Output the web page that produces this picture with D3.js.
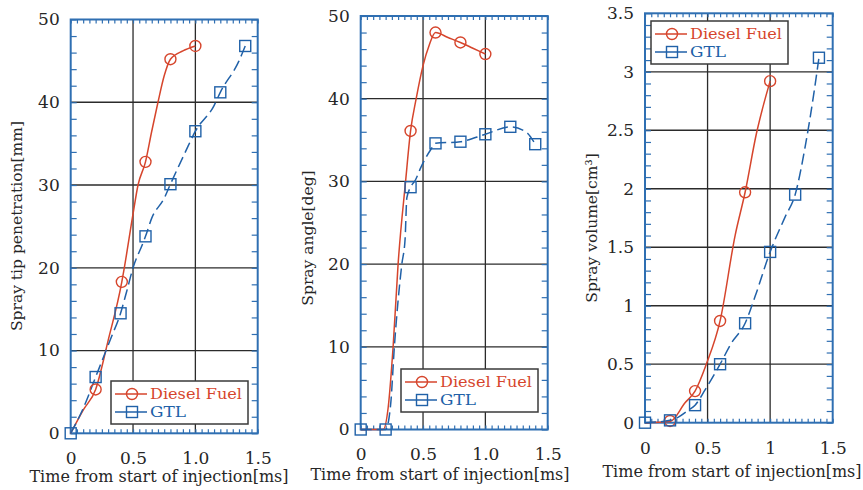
<!DOCTYPE html>
<html>
<head>
<meta charset="utf-8">
<script src="https://cdn.jsdelivr.net/npm/d3@7"></script>
<style>
  body { margin: 0; background: #fff; }
  svg text { font-family: "DejaVu Serif", serif; fill: #262626; }
</style>
</head>
<body>
<svg id="chart" width="863" height="490"></svg>
<script>
// ---- data ----
let timeTicks = [0, 0.5, 1.0, 1.5];
let timeLabelsA = ["0", "0.5", "1.0", "1.5"];
let timeLabelsB = ["0", "0.5", "1", "1.5"];

let penTicks = [0, 10, 20, 30, 40, 50];
let angTicks = [0, 10, 20, 30, 40, 50];
let volTicks = [0, 0.5, 1, 1.5, 2, 2.5, 3, 3.5];
let volLabels = ["0", "0.5", "1", "1.5", "2", "2.5", "3", "3.5"];

let seriesNames = ["Diesel Fuel", "GTL"];

// spray tip penetration [mm]
let dieselPenLine = [[0, 0], [0.1, 2.8], [0.2, 5.3], [0.3, 11.2], [0.41, 18.3], [0.43, 20], [0.5, 26.5], [0.54, 30], [0.6, 32.8], [0.65, 36.5], [0.7, 40], [0.75, 43.2], [0.8, 45.2], [0.9, 46.2], [1.0, 46.8]];
let dieselPenPts = [[0.2, 5.3], [0.41, 18.3], [0.6, 32.8], [0.8, 45.2], [1.0, 46.8]];
let gtlPenLine = [[0, 0], [0.1, 3.0], [0.2, 6.8], [0.32, 11.4], [0.4, 14.5], [0.45, 17.2], [0.5, 20], [0.58, 23], [0.6, 23.8], [0.65, 26], [0.75, 28.4], [0.8, 30.1], [0.92, 34], [1.0, 36.5], [1.15, 39.6], [1.2, 41.2], [1.35, 45], [1.4, 46.8]];
let gtlPenPts = [[0, 0], [0.2, 6.8], [0.4, 14.5], [0.6, 23.8], [0.8, 30.1], [1.0, 36.5], [1.2, 41.2], [1.4, 46.8]];

// spray angle [deg]
let dieselAngLine = [[0, 0], [0.18, 0], [0.22, 2.6], [0.26, 10], [0.3, 20], [0.36, 30], [0.4, 36.1], [0.445, 40], [0.5, 44], [0.55, 46.5], [0.6, 48], [0.7, 47.4], [0.8, 46.8], [0.9, 46.1], [1.0, 45.4]];
let dieselAngPts = [[0.4, 36.1], [0.6, 48], [0.8, 46.8], [1.0, 45.4]];
let gtlAngLine = [[0, 0], [0.2, 0], [0.24, 3], [0.27, 10], [0.33, 20], [0.356, 23], [0.37, 28], [0.4, 29.3], [0.44, 30.2], [0.48, 31.6], [0.52, 32.8], [0.56, 33.8], [0.6, 34.6], [0.8, 34.8], [1.0, 35.7], [1.2, 36.6], [1.3, 36.2], [1.34, 35.8], [1.4, 34.5]];
let gtlAngPts = [[0, 0], [0.2, 0], [0.4, 29.3], [0.6, 34.6], [0.8, 34.8], [1.0, 35.7], [1.2, 36.6], [1.4, 34.5]];

// spray volume [cm3]
let dieselVolLine = [[0, 0], [0.2, 0.01], [0.32, 0.17], [0.4, 0.27], [0.49, 0.5], [0.6, 0.87], [0.72, 1.6], [0.8, 1.97], [0.89, 2.47], [1.0, 2.92]];
let dieselVolPts = [[0.2, 0.015], [0.4, 0.27], [0.6, 0.87], [0.8, 1.97], [1.0, 2.92]];
let gtlVolLine = [[0, 0], [0.2, 0.02], [0.27, 0.05], [0.35, 0.11], [0.4, 0.15], [0.48, 0.28], [0.6, 0.5], [0.69, 0.68], [0.8, 0.85], [0.88, 1.08], [1.0, 1.46], [1.12, 1.76], [1.2, 1.95], [1.28, 2.36], [1.35, 2.82], [1.39, 3.12]];
let gtlVolPts = [[0, 0], [0.2, 0.02], [0.4, 0.15], [0.6, 0.5], [0.8, 0.85], [1.0, 1.46], [1.2, 1.95], [1.39, 3.12]];

// ---- styling ----
let red = "#d6452c";
let blue = "#2061a8";
let frameBlue = "#2f6fb2";
let gridColor = "#2b2b2b";

let panels = [
    {
        box: { left: 70.7, right: 257.7, top: 19.5, bottom: 433.3 },
        yMax: 50, yTicks: penTicks, yLabels: penTicks.map(String), yMinor: 2,
        xLabels: timeLabelsA, xLabelY: 464, titleY: 482, titleX: 159,
        yTitle: "Spray tip penetration[mm]", yTitleX: 22, yTitleY: 226,
        legend: { x: 111, y: 381, w: 137, h: 43 },
        lines: [dieselPenLine, gtlPenLine], pts: [dieselPenPts, gtlPenPts]
    },
    {
        box: { left: 360.7, right: 547.7, top: 16, bottom: 429.5 },
        yMax: 50, yTicks: angTicks, yLabels: angTicks.map(String), yMinor: 2,
        xLabels: timeLabelsA, xLabelY: 460, titleY: 480, titleX: 440,
        yTitle: "Spray angle[deg]", yTitleX: 313, yTitleY: 238,
        legend: { x: 401, y: 369, w: 137, h: 43 },
        lines: [dieselAngLine, gtlAngLine], pts: [dieselAngPts, gtlAngPts]
    },
    {
        box: { left: 645, right: 832.7, top: 13.3, bottom: 422.7 },
        yMax: 3.5, yTicks: volTicks, yLabels: volLabels, yMinor: 0.1,
        xLabels: timeLabelsB, xLabelY: 454, titleY: 477, titleX: 732,
        yTitle: "Spray volume[cm³]", yTitleX: 597, yTitleY: 228,
        legend: { x: 651, y: 21, w: 137, h: 43 },
        lines: [dieselVolLine, gtlVolLine], pts: [dieselVolPts, gtlVolPts]
    }
];

let svg = d3.select("#chart");

let drawMarker = (sel, i, cx, cy) => {
    if (i === 0) {
        sel.append("circle")
            .attr("cx", cx).attr("cy", cy).attr("r", 5.5)
            .attr("fill", "none").attr("stroke", red).attr("stroke-width", 1.4);
    } else {
        sel.append("rect")
            .attr("x", cx - 5.5).attr("y", cy - 5.5)
            .attr("width", 11).attr("height", 11)
            .attr("fill", "none").attr("stroke", blue).attr("stroke-width", 1.4);
    }
}

panels.forEach(p => {
    let b = p.box;
    let x = d3.scaleLinear().domain([0, 1.5]).range([b.left, b.right]);
    let y = d3.scaleLinear().domain([0, p.yMax]).range([b.bottom, b.top]);
    let g = svg.append("g");

    // grid at major ticks
    g.append("g").selectAll("line.vg")
        .data(timeTicks.slice(1, -1))
        .enter().append("line")
        .attr("x1", d => x(d)).attr("x2", d => x(d))
        .attr("y1", b.top).attr("y2", b.bottom)
        .attr("stroke", gridColor).attr("stroke-width", 1.3);
    g.append("g").selectAll("line.hg")
        .data(p.yTicks.slice(1, -1))
        .enter().append("line")
        .attr("x1", b.left).attr("x2", b.right)
        .attr("y1", d => y(d)).attr("y2", d => y(d))
        .attr("stroke", gridColor).attr("stroke-width", 1.3);

    // frame ticks, all pointing inwards
    let xMinor = d3.range(0, 1.5001, 0.05);
    let yMinor = d3.range(0, p.yMax + 1e-6, p.yMinor);
    let frameAxis = (axis, tx, ty) => {
        let a = g.append("g")
            .attr("transform", `translate(${tx},${ty})`)
            .call(axis.tickSizeOuter(0).tickFormat(""));
        a.select(".domain").remove();
        a.selectAll("line").attr("stroke", frameBlue).attr("stroke-width", 1.2);
    }
    frameAxis(d3.axisTop(x).tickValues(xMinor).tickSizeInner(4), 0, b.bottom);
    frameAxis(d3.axisBottom(x).tickValues(xMinor).tickSizeInner(4), 0, b.top);
    frameAxis(d3.axisRight(y).tickValues(yMinor).tickSizeInner(6), b.left, 0);
    frameAxis(d3.axisLeft(y).tickValues(yMinor).tickSizeInner(6), b.right, 0);

    g.append("rect")
        .attr("x", b.left).attr("y", b.top)
        .attr("width", b.right - b.left).attr("height", b.bottom - b.top)
        .attr("fill", "none").attr("stroke", frameBlue).attr("stroke-width", 2);

    // tick labels
    let xl = g.append("g")
        .attr("transform", `translate(0,${p.xLabelY})`)
        .call(d3.axisBottom(x).tickValues(timeTicks).tickSize(0).tickPadding(0)
            .tickFormat((d, i) => p.xLabels[i]));
    xl.select(".domain").remove();
    xl.selectAll("text").attr("dy", 0).attr("font-size", 17).attr("fill", "#262626");

    let yl = g.append("g")
        .attr("transform", `translate(${b.left - 11},0)`)
        .call(d3.axisLeft(y).tickValues(p.yTicks).tickSize(0).tickPadding(0)
            .tickFormat((d, i) => p.yLabels[i]));
    yl.select(".domain").remove();
    yl.selectAll("text").attr("font-size", 17).attr("fill", "#262626");

    // axis titles
    g.append("text")
        .attr("x", p.titleX).attr("y", p.titleY)
        .attr("text-anchor", "middle").attr("font-size", 16)
        .text("Time from start of injection[ms]");
    g.append("text")
        .attr("transform", `translate(${p.yTitleX},${p.yTitleY}) rotate(-90)`)
        .attr("text-anchor", "middle").attr("font-size", 15.5)
        .text(p.yTitle);

    // curves
    let line = d3.line().x(d => x(d[0])).y(d => y(d[1])).curve(d3.curveMonotoneX);
    p.lines.forEach((data, i) => {
        g.append("path")
            .attr("d", line(data))
            .attr("fill", "none")
            .attr("stroke", i === 0 ? red : blue)
            .attr("stroke-width", 1.5)
            .attr("stroke-dasharray", i === 0 ? null : "11,5");
    });
    p.pts.forEach((data, i) => {
        data.forEach(d => drawMarker(g, i, x(d[0]), y(d[1])));
    });

    // legend
    let L = p.legend;
    let lg = g.append("g").attr("transform", `translate(${L.x},${L.y})`);
    lg.append("rect")
        .attr("width", L.w).attr("height", L.h)
        .attr("fill", "#fff").attr("stroke", "#3a3a3a").attr("stroke-width", 1.5);
    seriesNames.forEach((name, i) => {
        let cy = 13 + i * 18;
        lg.append("line")
            .attr("x1", 4).attr("x2", 36).attr("y1", cy).attr("y2", cy)
            .attr("stroke", i === 0 ? red : blue).attr("stroke-width", 1.5);
        drawMarker(lg, i, 21, cy);
        lg.append("text")
            .attr("x", 39).attr("y", cy + 5)
            .attr("font-size", 15)
            .attr("textLength", i === 0 ? 92 : 36)
            .attr("lengthAdjust", "spacingAndGlyphs")
            .style("fill", i === 0 ? red : blue)
            .text(name);
    });
});
</script>
</body>
</html>
